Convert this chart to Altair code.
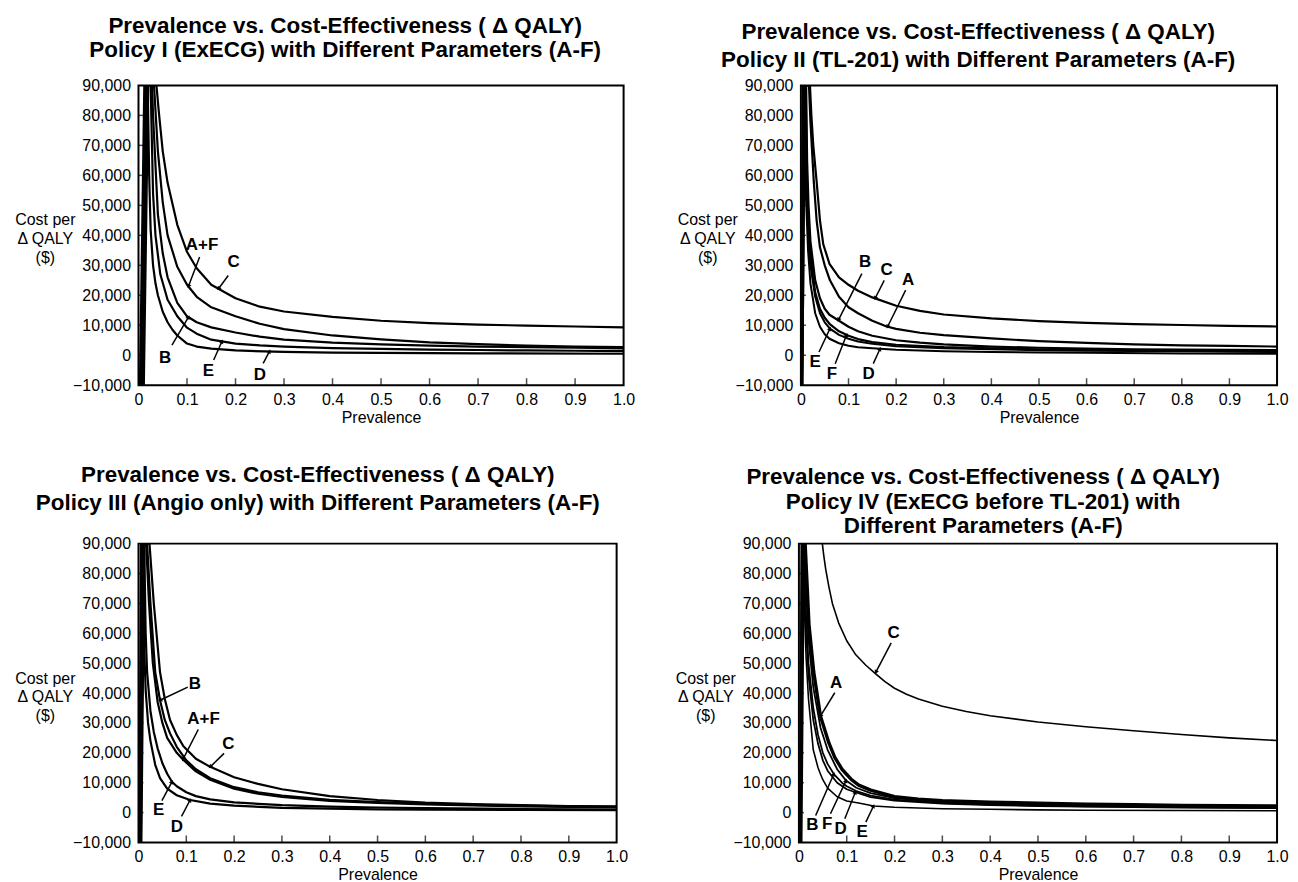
import math
import altair as alt
import pandas as pd

# ---------------- axis / text data ----------------
X_TICK_VALUES = [0, 0.1, 0.2, 0.3, 0.4, 0.5, 0.6, 0.7, 0.8, 0.9, 1.0]
Y_TICK_VALUES = [-10000, 0, 10000, 20000, 30000, 40000, 50000, 60000, 70000, 80000, 90000]
INNER_X_TICKS = [0.1, 0.2, 0.3, 0.4, 0.5, 0.6, 0.7, 0.8, 0.9]
INNER_Y_TICKS = [0, 10000, 20000, 30000, 40000, 50000, 60000, 70000, 80000]
Y_MIN, Y_MAX = -10000, 90000

TITLE_HEAD = "Prevalence vs. Cost-Effectiveness ( \u0394 QALY)"
TITLE_I = [TITLE_HEAD, "Policy I (ExECG) with Different Parameters (A-F)"]
TITLE_II = [TITLE_HEAD, "Policy II (TL-201) with Different Parameters (A-F)"]
TITLE_III = [TITLE_HEAD, "Policy III (Angio only) with Different Parameters (A-F)"]
TITLE_IV = [TITLE_HEAD, "Policy IV (ExECG before TL-201) with", "Different Parameters (A-F)"]
Y_TITLE = ["Cost per", "\u0394 QALY", "($)"]
X_TITLE = "Prevalence"

# ---------------- Policy I ----------------
P1_C_PREV = [0.011, 0.020, 0.037, 0.042, 0.05, 0.06, 0.08, 0.1, 0.12, 0.15, 0.2, 0.25, 0.3, 0.4, 0.5, 0.6, 0.7, 0.8, 0.9, 1.0]
P1_C_COST = [-10000, 90000, 90000, 81000, 68000, 57500, 43500, 34500, 29000, 23500, 19000, 16200, 14600, 12800, 11500, 10700, 10200, 9900, 9600, 9300]
P1_AF_PREV = [0.009, 0.018, 0.032, 0.04, 0.05, 0.06, 0.08, 0.1, 0.12, 0.15, 0.2, 0.25, 0.3, 0.4, 0.5, 0.6, 0.7, 0.8, 0.9, 1.0]
P1_AF_COST = [-10000, 90000, 90000, 68000, 51000, 40000, 29500, 23500, 19500, 16000, 13000, 10500, 8700, 6600, 5300, 4300, 3700, 3200, 2900, 2700]
P1_B_PREV = [0.007, 0.016, 0.028, 0.03, 0.04, 0.05, 0.06, 0.08, 0.1, 0.12, 0.15, 0.2, 0.25, 0.3, 0.4, 0.5, 0.6, 0.7, 0.8, 0.9, 1.0]
P1_B_COST = [-10000, 90000, 90000, 80000, 47000, 34000, 26000, 17500, 13000, 11000, 9300, 7600, 6200, 5200, 4200, 3600, 3200, 2900, 2700, 2500, 2300]
P1_E_PREV = [0.005, 0.014, 0.025, 0.03, 0.035, 0.045, 0.06, 0.08, 0.1, 0.12, 0.15, 0.2, 0.25, 0.3, 0.4, 0.5, 0.6, 0.7, 0.8, 0.9, 1.0]
P1_E_COST = [-10000, 90000, 90000, 54000, 40000, 27000, 18500, 13000, 9200, 7200, 5200, 3900, 3300, 2900, 2400, 2100, 1900, 1750, 1600, 1500, 1400]
P1_D_PREV = [0.003, 0.012, 0.019, 0.022, 0.025, 0.03, 0.035, 0.04, 0.05, 0.06, 0.07, 0.08, 0.1, 0.12, 0.15, 0.2, 0.3, 0.4, 0.5, 0.7, 1.0]
P1_D_COST = [-10000, 90000, 90000, 60000, 42000, 30000, 24000, 20000, 14500, 11000, 8500, 6600, 3900, 2900, 2200, 1600, 1100, 900, 800, 650, 500]

P1_LABELS = ["A+F", "C", "B", "E", "D"]
P1_TEXT_PREV = [0.131, 0.196, 0.055, 0.144, 0.25]
P1_TEXT_COST = [36600, 31100, -1000, -5400, -6600]
P1_FROM_PREV = [0.126, 0.185, 0.069, 0.155, 0.257]
P1_FROM_COST = [32800, 26600, 3400, -1600, -2700]
P1_TO_PREV = [0.103, 0.165, 0.103, 0.172, 0.27]
P1_TO_COST = [23000, 22200, 12700, 4600, 1300]

# ---------------- Policy II ----------------
P2_C_PREV = [0.003, 0.008, 0.019, 0.022, 0.026, 0.033, 0.04, 0.047, 0.06, 0.08, 0.1, 0.12, 0.15, 0.2, 0.25, 0.3, 0.4, 0.5, 0.6, 0.7, 0.8, 0.9, 1.0]
P2_C_COST = [-10000, 90000, 90000, 80000, 70000, 58000, 45000, 37000, 30500, 26000, 23500, 21500, 19300, 16500, 14800, 13600, 12300, 11400, 10800, 10400, 10100, 9800, 9600]
P2_A_PREV = [0.003, 0.008, 0.017, 0.02, 0.027, 0.033, 0.04, 0.05, 0.061, 0.08, 0.1, 0.12, 0.15, 0.18, 0.2, 0.25, 0.3, 0.4, 0.5, 0.6, 0.7, 0.8, 0.9, 1.0]
P2_A_COST = [-10000, 90000, 90000, 78000, 58000, 45000, 36000, 30000, 25000, 19500, 16000, 14000, 11500, 9600, 8800, 7500, 6700, 5600, 4700, 4100, 3600, 3300, 3100, 2900]
P2_B_PREV = [0.002, 0.006, 0.011, 0.013, 0.016, 0.02, 0.03, 0.04, 0.05, 0.06, 0.08, 0.1, 0.12, 0.15, 0.2, 0.25, 0.3, 0.4, 0.5, 0.6, 0.7, 0.8, 0.9, 1.0]
P2_B_COST = [-10000, 90000, 90000, 65000, 50000, 38000, 25000, 19000, 15500, 13500, 11500, 9500, 8000, 6500, 5000, 4200, 3600, 2900, 2500, 2200, 2000, 1900, 1800, 1700]
P2_F_PREV = [0.002, 0.006, 0.010, 0.012, 0.015, 0.02, 0.03, 0.04, 0.05, 0.06, 0.08, 0.1, 0.12, 0.15, 0.2, 0.3, 0.4, 0.5, 0.6, 0.8, 1.0]
P2_F_COST = [-10000, 90000, 90000, 62000, 47000, 34000, 21000, 15500, 12500, 10500, 8000, 6500, 5400, 4400, 3500, 2700, 2300, 2000, 1800, 1500, 1300]
P2_E_PREV = [0.001, 0.005, 0.009, 0.011, 0.015, 0.02, 0.03, 0.04, 0.05, 0.061, 0.08, 0.1, 0.12, 0.15, 0.2, 0.3, 0.4, 0.5, 0.6, 0.8, 1.0]
P2_E_COST = [-10000, 90000, 90000, 60000, 42000, 30000, 19500, 14000, 11000, 8900, 6800, 5500, 4600, 3800, 3000, 2300, 2000, 1700, 1500, 1300, 1100]
P2_D_PREV = [0.001, 0.004, 0.008, 0.01, 0.015, 0.02, 0.03, 0.04, 0.05, 0.06, 0.08, 0.1, 0.12, 0.15, 0.2, 0.3, 0.4, 0.5, 0.6, 0.8, 1.0]
P2_D_COST = [-10000, 90000, 90000, 55000, 35000, 24000, 14000, 9500, 7000, 5500, 4000, 3200, 2700, 2300, 1800, 1300, 1100, 900, 800, 600, 500]

P2_LABELS = ["B", "C", "A", "E", "F", "D"]
P2_TEXT_PREV = [0.135, 0.18, 0.225, 0.03, 0.065, 0.142]
P2_TEXT_COST = [31100, 28300, 25000, -2200, -6100, -6100]
P2_FROM_PREV = [0.128, 0.175, 0.22, 0.038, 0.072, 0.152]
P2_FROM_COST = [27200, 25000, 21700, 1100, -2800, -2800]
P2_TO_PREV = [0.079, 0.156, 0.182, 0.061, 0.096, 0.166]
P2_TO_COST = [11800, 19000, 9500, 8900, 6800, 2100]

# ---------------- Policy III ----------------
P3_C_PREV = [0.006, 0.012, 0.023, 0.032, 0.045, 0.055, 0.066, 0.08, 0.094, 0.12, 0.15, 0.2, 0.25, 0.3, 0.4, 0.5, 0.6, 0.7, 0.8, 0.9, 1.0]
P3_C_COST = [-10000, 90000, 90000, 70000, 47000, 38000, 31000, 26000, 22200, 18000, 15300, 11800, 9600, 7800, 5500, 4200, 3300, 2800, 2500, 2200, 2100]
P3_B_PREV = [0.005, 0.010, 0.018, 0.025, 0.035, 0.045, 0.055, 0.066, 0.08, 0.1, 0.12, 0.15, 0.2, 0.25, 0.3, 0.4, 0.5, 0.6, 0.7, 0.8, 0.9, 1.0]
P3_B_COST = [-10000, 90000, 90000, 70000, 47000, 37600, 31000, 26500, 22000, 17500, 14500, 11500, 8500, 6800, 5700, 4300, 3500, 3000, 2600, 2300, 2100, 1900]
P3_AF_PREV = [0.004, 0.009, 0.016, 0.022, 0.03, 0.04, 0.05, 0.06, 0.08, 0.094, 0.12, 0.15, 0.2, 0.25, 0.3, 0.4, 0.5, 0.6, 0.7, 0.8, 0.9, 1.0]
P3_AF_COST = [-10000, 90000, 90000, 70000, 50000, 37000, 30000, 25000, 20000, 17600, 13800, 11000, 8000, 6300, 5200, 3900, 3200, 2700, 2400, 2100, 1900, 1700]
P3_E_PREV = [0.003, 0.007, 0.012, 0.015, 0.018, 0.025, 0.032, 0.04, 0.05, 0.06, 0.07, 0.08, 0.1, 0.12, 0.15, 0.2, 0.3, 0.4, 0.5, 0.6, 0.8, 1.0]
P3_E_COST = [-10000, 90000, 90000, 60000, 47000, 34000, 27000, 21500, 16500, 13000, 10300, 8800, 6800, 5500, 4400, 3400, 2500, 2000, 1700, 1500, 1200, 1000]
P3_D_PREV = [0.002, 0.005, 0.01, 0.012, 0.015, 0.02, 0.025, 0.035, 0.045, 0.06, 0.08, 0.108, 0.15, 0.2, 0.3, 0.4, 0.5, 0.6, 0.8, 1.0]
P3_D_COST = [-10000, 90000, 90000, 55000, 41000, 30000, 24000, 16000, 11500, 8000, 5800, 4200, 3000, 2300, 1600, 1300, 1100, 1000, 900, 800]

P3_LABELS = ["B", "A+F", "C", "E", "D"]
P3_TEXT_PREV = [0.118, 0.136, 0.188, 0.042, 0.08]
P3_TEXT_COST = [43100, 31400, 23100, 700, -4700]
P3_FROM_PREV = [0.103, 0.125, 0.179, 0.049, 0.09]
P3_FROM_COST = [42000, 27800, 19800, 4000, -1300]
P3_TO_PREV = [0.045, 0.093, 0.15, 0.07, 0.108]
P3_TO_COST = [37600, 17800, 15300, 10300, 4200]

# ---------------- Policy IV ----------------
P4_C_PREV = [0.049, 0.052, 0.056, 0.0625, 0.07, 0.083, 0.1, 0.118, 0.14, 0.16, 0.18, 0.2, 0.225, 0.25, 0.3, 0.35, 0.4, 0.5, 0.6, 0.7, 0.8, 0.9, 1.0]
P4_C_COST = [90000, 86000, 81500, 75700, 70000, 63500, 57500, 53000, 49300, 46500, 43800, 41600, 39600, 38000, 35600, 33800, 32400, 30300, 28700, 27400, 26100, 25000, 24100]
P4_A_PREV = [0.004, 0.009, 0.013, 0.016, 0.021, 0.031, 0.045, 0.0625, 0.075, 0.09, 0.11, 0.125, 0.15, 0.2, 0.25, 0.3, 0.4, 0.5, 0.6, 0.7, 0.8, 0.9, 1.0]
P4_A_COST = [-10000, 90000, 90000, 80000, 63000, 47000, 32300, 23400, 18500, 14500, 11000, 9200, 7500, 5300, 4500, 4000, 3500, 3100, 2800, 2600, 2400, 2300, 2200]
P4_F_PREV = [0.004, 0.008, 0.012, 0.015, 0.02, 0.03, 0.045, 0.06, 0.08, 0.0986, 0.12, 0.15, 0.2, 0.3, 0.4, 0.5, 0.6, 0.7, 0.8, 0.9, 1.0]
P4_F_COST = [-10000, 90000, 90000, 76000, 58000, 42000, 28500, 21000, 14500, 10700, 8300, 6500, 4800, 3500, 2900, 2600, 2300, 2100, 2000, 1900, 1800]
P4_B_PREV = [0.003, 0.007, 0.011, 0.013, 0.02, 0.03, 0.04, 0.05, 0.06, 0.073, 0.09, 0.1, 0.12, 0.15, 0.2, 0.3, 0.4, 0.5, 0.6, 0.8, 1.0]
P4_B_COST = [-10000, 90000, 90000, 72000, 50000, 35000, 26000, 20000, 16300, 12900, 10000, 8800, 7200, 5700, 4300, 3200, 2700, 2300, 2100, 1800, 1600]
P4_D_PREV = [0.003, 0.006, 0.010, 0.013, 0.02, 0.03, 0.04, 0.05, 0.06, 0.08, 0.1, 0.118, 0.15, 0.2, 0.3, 0.4, 0.5, 0.6, 0.8, 1.0]
P4_D_COST = [-10000, 90000, 90000, 68000, 46000, 31000, 23000, 17500, 14000, 10000, 7800, 6800, 5200, 4000, 3000, 2500, 2200, 2000, 1700, 1500]
P4_E_PREV = [0.002, 0.005, 0.008, 0.01, 0.015, 0.02, 0.03, 0.04, 0.045, 0.05, 0.06, 0.08, 0.1, 0.125, 0.156, 0.2, 0.3, 0.4, 0.5, 0.6, 0.8, 1.0]
P4_E_COST = [-10000, 90000, 90000, 75000, 52000, 38000, 21000, 15000, 12900, 11000, 8200, 5300, 3900, 3200, 2200, 1800, 1300, 1100, 900, 800, 700, 600]

P4_LABELS = ["C", "A", "B", "F", "D", "E"]
P4_TEXT_PREV = [0.198, 0.078, 0.028, 0.059, 0.087, 0.132]
P4_TEXT_COST = [60100, 43400, -4300, -3800, -5400, -6600]
P4_FROM_PREV = [0.193, 0.075, 0.035, 0.066, 0.096, 0.14]
P4_FROM_COST = [56800, 40100, -1000, -400, -2100, -3200]
P4_TO_PREV = [0.161, 0.045, 0.073, 0.0986, 0.118, 0.156]
P4_TO_COST = [47000, 32300, 12900, 10700, 6800, 2200]

FONT = "Liberation Sans"


def curve_frame(curves):
    rows = []
    for name, ps, vs, w in curves:
        for i, (p, v) in enumerate(zip(ps, vs)):
            rows.append({"curve": name, "p": p, "v": v, "i": i, "w": w})
    return pd.DataFrame(rows)


def label_frame(labels, tp, tv, fp, fv, hp, hv, width, height):
    rows = []
    for lab, a, b, c, d, e, f in zip(labels, tp, tv, fp, fv, hp, hv):
        dx = (e - c) * width
        dy = -(f - d) / (Y_MAX - Y_MIN) * height
        ang = (math.degrees(math.atan2(dx, -dy)) + 360) % 360
        rows.append({"label": lab, "tx": a, "ty": b, "x0": c, "y0": d, "x1": e, "y1": f, "ang": ang})
    return pd.DataFrame(rows)


def panel(curves, labels_df, width, height, title_lines, title_dx, title_offset, title_lh):
    xs = alt.Scale(domain=[0, 1], nice=False, zero=False)
    ys = alt.Scale(domain=[Y_MIN, Y_MAX], nice=False, zero=False)
    xa = alt.Axis(values=X_TICK_VALUES, title=X_TITLE, ticks=False, domain=False, grid=False,
                  labelExpr="datum.value === 0 ? '0' : format(datum.value, '.1f')",
                  labelPadding=6, titlePadding=2, labelFlush=False)
    ya = alt.Axis(values=Y_TICK_VALUES, title=Y_TITLE, ticks=False, domain=False, grid=False,
                  labelExpr="format(datum.value, ',')",
                  titleAngle=0, titleAlign="center", titleBaseline="top", titleX=-94, titleY=127,
                  titleLineHeight=19, labelPadding=8, labelFlush=False)

    def X(f):
        return alt.X(f, type="quantitative", scale=xs, axis=xa)

    def Y(f):
        return alt.Y(f, type="quantitative", scale=ys, axis=ya)

    df = curve_frame(curves)
    lines = alt.Chart(df).mark_line(color="black", clip=True, strokeCap="round", strokeJoin="round").encode(
        x=X("p"), y=Y("v"), detail="curve:N", order="i:Q",
        strokeWidth=alt.StrokeWidth("w:Q", scale=None),
    )
    xt = pd.DataFrame({"p": INNER_X_TICKS, "v": [Y_MIN] * len(INNER_X_TICKS)})
    xticks = alt.Chart(xt).mark_tick(orient="vertical", size=7, thickness=1.5, yOffset=-3.5, color="black").encode(
        x=X("p"), y=Y("v"))
    yt = pd.DataFrame({"p": [0] * len(INNER_Y_TICKS), "v": INNER_Y_TICKS})
    yticks = alt.Chart(yt).mark_tick(orient="horizontal", size=5, thickness=1.5, xOffset=2.5, color="black").encode(
        x=X("p"), y=Y("v"))
    leaders = alt.Chart(labels_df).mark_rule(color="black", strokeWidth=1.5).encode(
        x=X("x0"), y=Y("y0"), x2="x1", y2="y1")
    heads = alt.Chart(labels_df).mark_point(shape="triangle-up", filled=True, size=22, color="black", opacity=1).encode(
        x=X("x1"), y=Y("y1"), angle=alt.Angle("ang:Q", scale=None))
    texts = alt.Chart(labels_df).mark_text(font=FONT, fontSize=17, fontWeight="bold", color="black").encode(
        x=X("tx"), y=Y("ty"), text="label:N")
    return alt.layer(lines, xticks, yticks, leaders, heads, texts).properties(
        width=width, height=height,
        title=alt.TitleParams(text=title_lines, dx=title_dx, offset=title_offset, lineHeight=title_lh,
                              frame="group", anchor="middle"),
    )


c1 = [("C", P1_C_PREV, P1_C_COST, 2.2), ("AF", P1_AF_PREV, P1_AF_COST, 2.2), ("B", P1_B_PREV, P1_B_COST, 2.2),
      ("E", P1_E_PREV, P1_E_COST, 2.2), ("D", P1_D_PREV, P1_D_COST, 2.2)]
c2 = [("C", P2_C_PREV, P2_C_COST, 2.2), ("A", P2_A_PREV, P2_A_COST, 2.2), ("B", P2_B_PREV, P2_B_COST, 2.2),
      ("F", P2_F_PREV, P2_F_COST, 2.2), ("E", P2_E_PREV, P2_E_COST, 2.0), ("D", P2_D_PREV, P2_D_COST, 2.0)]
c3 = [("C", P3_C_PREV, P3_C_COST, 2.2), ("B", P3_B_PREV, P3_B_COST, 2.2), ("AF", P3_AF_PREV, P3_AF_COST, 2.2),
      ("E", P3_E_PREV, P3_E_COST, 2.2), ("D", P3_D_PREV, P3_D_COST, 2.2)]
c4 = [("C", P4_C_PREV, P4_C_COST, 1.6), ("A", P4_A_PREV, P4_A_COST, 3.4), ("F", P4_F_PREV, P4_F_COST, 1.8),
      ("B", P4_B_PREV, P4_B_COST, 1.8), ("D", P4_D_PREV, P4_D_COST, 1.8), ("E", P4_E_PREV, P4_E_COST, 1.6)]

W1, H1 = 487, 301
W2, H2 = 478, 301
W3, H3 = 480, 300
W4, H4 = 480, 300

l1 = label_frame(P1_LABELS, P1_TEXT_PREV, P1_TEXT_COST, P1_FROM_PREV, P1_FROM_COST, P1_TO_PREV, P1_TO_COST, W1, H1)
l2 = label_frame(P2_LABELS, P2_TEXT_PREV, P2_TEXT_COST, P2_FROM_PREV, P2_FROM_COST, P2_TO_PREV, P2_TO_COST, W2, H2)
l3 = label_frame(P3_LABELS, P3_TEXT_PREV, P3_TEXT_COST, P3_FROM_PREV, P3_FROM_COST, P3_TO_PREV, P3_TO_COST, W3, H3)
l4 = label_frame(P4_LABELS, P4_TEXT_PREV, P4_TEXT_COST, P4_FROM_PREV, P4_FROM_COST, P4_TO_PREV, P4_TO_COST, W4, H4)

p1 = panel(c1, l1, W1, H1, TITLE_I, -36, 16, 24)
p2 = panel(c2, l2, W2, H2, TITLE_II, -61, 6, 28)
p3 = panel(c3, l3, W3, H3, TITLE_III, -60, 21, 28)
p4 = panel(c4, l4, W4, H4, TITLE_IV, -55, -2, 24.5)

row1 = alt.hconcat(p1, p2, spacing=178, bounds="flush")
row2 = alt.hconcat(p3, p4, spacing=183, bounds="flush")

chart = (
    alt.vconcat(row1, row2, spacing=37)
    .properties(padding={"left": 5, "top": 4, "right": 0, "bottom": 0}, background="white")
    .configure_view(stroke="black", strokeWidth=2)
    .configure_axis(labelFont=FONT, titleFont=FONT, labelFontSize=16, titleFontSize=16,
                    labelColor="black", titleColor="black", titleFontWeight="normal")
    .configure_title(font=FONT, fontSize=22.5, fontWeight="bold", color="black")
)

chart.save("out.html", embed_options={"renderer": "svg", "actions": False})
